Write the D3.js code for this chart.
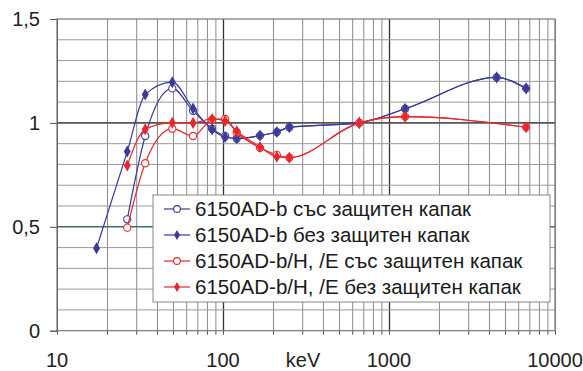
<!DOCTYPE html>
<html>
<head>
<meta charset="utf-8">
<script src="https://cdn.jsdelivr.net/npm/d3@7"></script>
<style>
  body { margin: 0; background: #fff; }
  svg { display: block; font-family: "Liberation Sans", Arial, sans-serif; }
</style>
</head>
<body>
<svg id="chart" width="583" height="371"></svg>
<script>
// energies in keV
var energies = [17.3, 26.5, 34, 49.5, 66, 86, 103, 121, 167, 211, 251, 662, 1250, 4450, 6700];
var redEnergies = [26.5, 34, 49.5, 66, 86, 103, 121, 167, 211, 251, 662, 1250, 6700];

var blueOpen = [null, 0.536, 0.937, 1.166, 1.058, 0.972, 0.936, 0.925, 0.939, 0.956, 0.979, 1.0, 1.068, 1.219, 1.166];
var blueFilled = [0.397, 0.862, 1.137, 1.196, 1.069, 0.968, 0.932, 0.925, 0.939, 0.956, 0.979, 1.0, 1.068, 1.219, 1.166];
var redOpen = [0.496, 0.806, 0.972, 0.937, 1.015, 1.019, 0.955, 0.88, 0.846, 0.833, 1.0, 1.03, 0.979];
var redFilled = [0.795, 0.969, 1.001, 1.0, 1.019, 1.009, 0.960, 0.884, 0.837, 0.833, 1.0, 1.03, 0.979];

var seriesNames = [
  "6150AD-b със защитен капак",
  "6150AD-b без защитен капак",
  "6150AD-b/H, /E със защитен капак",
  "6150AD-b/H, /E без защитен капак"
];
var yTickLabels = ["0", "0,5", "1", "1,5"];
var xTickLabels = ["10", "100", "1000", "10000"];

(function () {
  var blue = "#3b3a98", red = "#e8262b";
  var fs = 20;

  var svg = d3.select("#chart");
  var mLeft = 57, mRight = 555, mTop = 19, mBottom = 330.7;

  var x = d3.scaleLog().domain([10, 10000]).range([mLeft, mRight]);
  var y = d3.scaleLinear().domain([0, 1.5]).range([mBottom, mTop]);

  // grid
  var grid = svg.append("g");
  grid.append("g")
    .attr("transform", "translate(0," + mBottom + ")")
    .call(d3.axisBottom(x).ticks(10).tickSize(-(mBottom - mTop)).tickFormat(""))
    .call(function (g) {
      g.select(".domain").remove();
      g.selectAll(".tick line")
        .attr("stroke", function (d) { return (d === 100 || d === 1000) ? "#333" : "#8a8a8a"; })
        .attr("stroke-width", function (d) { return (d === 100 || d === 1000) ? 1.3 : 1; });
    });
  // small ticks below x axis
  grid.append("g")
    .attr("transform", "translate(0," + mBottom + ")")
    .call(d3.axisBottom(x).ticks(10).tickSize(4).tickFormat(""))
    .call(function (g) {
      g.select(".domain").remove();
      g.selectAll(".tick line").attr("stroke", "#555");
    });

  grid.append("g")
    .selectAll("line")
    .data(d3.range(1, 15))
    .enter().append("line")
    .attr("x1", mLeft).attr("x2", mRight)
    .attr("y1", function (d) { return y(d / 10); })
    .attr("y2", function (d) { return y(d / 10); })
    .attr("stroke", function (d) { return d === 10 ? "#555" : (d === 5 ? "#3f6e6e" : "#9a9a9a"); })
    .attr("stroke-width", function (d) { return (d === 10 || d === 5) ? 1.6 : 1; });

  // frame
  svg.append("rect")
    .attr("x", mLeft).attr("y", mTop)
    .attr("width", mRight - mLeft).attr("height", mBottom - mTop)
    .attr("fill", "none").attr("stroke", "#777").attr("stroke-width", 1.2);

  // y axis
  svg.append("g")
    .attr("transform", "translate(" + mLeft + ",0)")
    .call(d3.axisLeft(y).tickValues([0, 0.5, 1, 1.5]).tickSize(7).tickPadding(10)
      .tickFormat(function (d, i) { return yTickLabels[i]; }))
    .call(function (g) {
      g.select(".domain").attr("stroke", "#666");
      g.selectAll(".tick line").attr("stroke", "#555");
      g.selectAll("text").attr("font-size", fs).attr("fill", "#222")
        .attr("font-family", "Liberation Sans, Arial, sans-serif");
    });

  // x labels
  svg.append("g").selectAll("text")
    .data([10, 100, 1000, 10000])
    .enter().append("text")
    .attr("x", function (d) { return x(d); })
    .attr("y", 367)
    .attr("text-anchor", "middle")
    .attr("font-size", fs).attr("fill", "#222")
    .text(function (d, i) { return xTickLabels[i]; });
  svg.append("text")
    .attr("x", 303).attr("y", 367)
    .attr("text-anchor", "middle")
    .attr("font-size", fs).attr("fill", "#222")
    .text("keV");

  // series
  var line = d3.line()
    .x(function (d) { return x(d[0]); })
    .y(function (d) { return y(d[1]); })
    .curve(d3.curveMonotoneX);

  function pairs(xs, ys) {
    return xs.map(function (e, i) { return [e, ys[i]]; }).filter(function (d) { return d[1] != null; });
  }

  var series = [
    { name: seriesNames[0], data: pairs(energies, blueOpen), color: blue, open: true },
    { name: seriesNames[1], data: pairs(energies, blueFilled), color: blue, open: false },
    { name: seriesNames[2], data: pairs(redEnergies, redOpen), color: red, open: true },
    { name: seriesNames[3], data: pairs(redEnergies, redFilled), color: red, open: false }
  ];

  var diamond = d3.symbol().type(d3.symbolDiamond).size(42);

  series.forEach(function (s) {
    var g = svg.append("g");
    g.append("path")
      .attr("d", line(s.data))
      .attr("fill", "none")
      .attr("stroke", s.color)
      .attr("stroke-width", 1.2);
    if (s.open) {
      g.selectAll("circle").data(s.data).enter().append("circle")
        .attr("cx", function (d) { return x(d[0]); })
        .attr("cy", function (d) { return y(d[1]); })
        .attr("r", 3.6)
        .attr("fill", "#fff")
        .attr("stroke", s.color)
        .attr("stroke-width", 1.1);
    } else {
      g.selectAll("path.m").data(s.data).enter().append("path")
        .attr("class", "m")
        .attr("transform", function (d) { return "translate(" + x(d[0]) + "," + y(d[1]) + ")"; })
        .attr("d", diamond)
        .attr("fill", s.color);
    }
  });

  // legend
  var lg = svg.append("g");
  lg.append("rect")
    .attr("x", 153).attr("y", 195).attr("width", 397).attr("height", 107)
    .attr("fill", "#fff").attr("stroke", "#888").attr("stroke-width", 1);
  series.forEach(function (s, i) {
    var cy = 209 + i * 26;
    lg.append("line")
      .attr("x1", 164).attr("x2", 190).attr("y1", cy).attr("y2", cy)
      .attr("stroke", s.color).attr("stroke-width", 1.2);
    if (s.open) {
      lg.append("circle").attr("cx", 177).attr("cy", cy).attr("r", 3.4)
        .attr("fill", "#fff").attr("stroke", s.color).attr("stroke-width", 1.1);
    } else {
      lg.append("path").attr("transform", "translate(177," + cy + ")")
        .attr("d", d3.symbol().type(d3.symbolDiamond).size(30)).attr("fill", s.color);
    }
    lg.append("text")
      .attr("x", 195).attr("y", cy + 7)
      .attr("font-size", fs + 0.5).attr("fill", "#1a1a1a")
      .text(s.name);
  });
})();
</script>
</body>
</html>
